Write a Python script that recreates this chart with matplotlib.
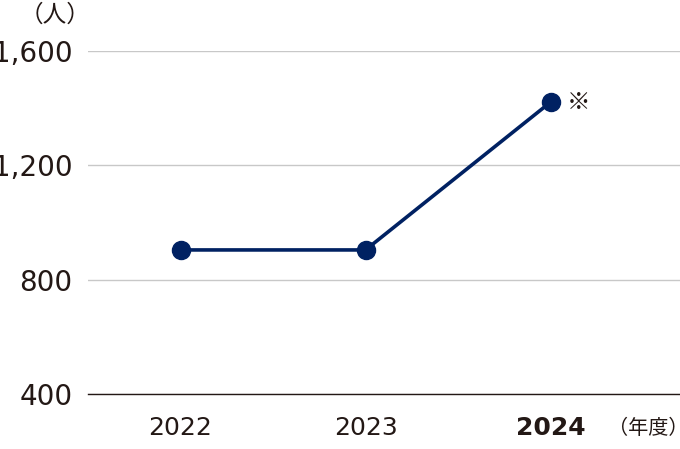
import matplotlib
matplotlib.use("Agg")
import matplotlib.pyplot as plt

years = ["2022", "2023", "2024"]
values = [904, 904, 1421]
yticks = [400, 800, 1200, 1600]
ytick_labels = ["400", "800", "1,200", "1,600"]

TXT = "#231815"
NAVY = "#002162"
CJK = ["Noto Sans CJK JP", "DejaVu Sans"]

fig = plt.figure(figsize=(6.8, 4.49), dpi=100)
ax = fig.add_axes([88/680, 55/449, 1 - 88/680, (394-51)/449])

x = list(range(len(years)))
ax.plot(x, values, color=NAVY, lw=2.6, marker="o", ms=13, mfc=NAVY, mec=NAVY,
        clip_on=False, zorder=5)

ax.set_xlim(-0.5, 2.7)
ax.set_ylim(400, 1600)
ax.set_yticks(yticks)
ax.set_yticklabels(ytick_labels, fontsize=20, color=TXT)
ax.set_xticks(x)
ax.set_xticklabels(years, fontsize=18, color=TXT)
ax.get_xticklabels()[2].set_fontweight("bold")
ax.tick_params(axis="both", length=0)
ax.tick_params(axis="y", pad=11)
ax.tick_params(axis="x", pad=16)

for s in ["top", "right", "left"]:
    ax.spines[s].set_visible(False)
ax.spines["bottom"].set_color(TXT)
ax.spines["bottom"].set_linewidth(1.0)

ax.grid(axis="y", color="#c8c8c8", lw=1.0)
ax.set_axisbelow(True)

fig.text(55/680, 1 - 15/449, "（人）", fontsize=17, color=TXT, family=CJK,
         ha="center", va="center")
fig.text(648/680, 1 - 429/449, "（年度）", fontsize=14.5, color=TXT, family=CJK,
         ha="center", va="center")
ax.annotate("※", xy=(2, values[2]), xytext=(12, 0), textcoords="offset points",
            fontsize=17, color=TXT, family=CJK, ha="left", va="center")

fig.savefig("out.png", dpi=100)
